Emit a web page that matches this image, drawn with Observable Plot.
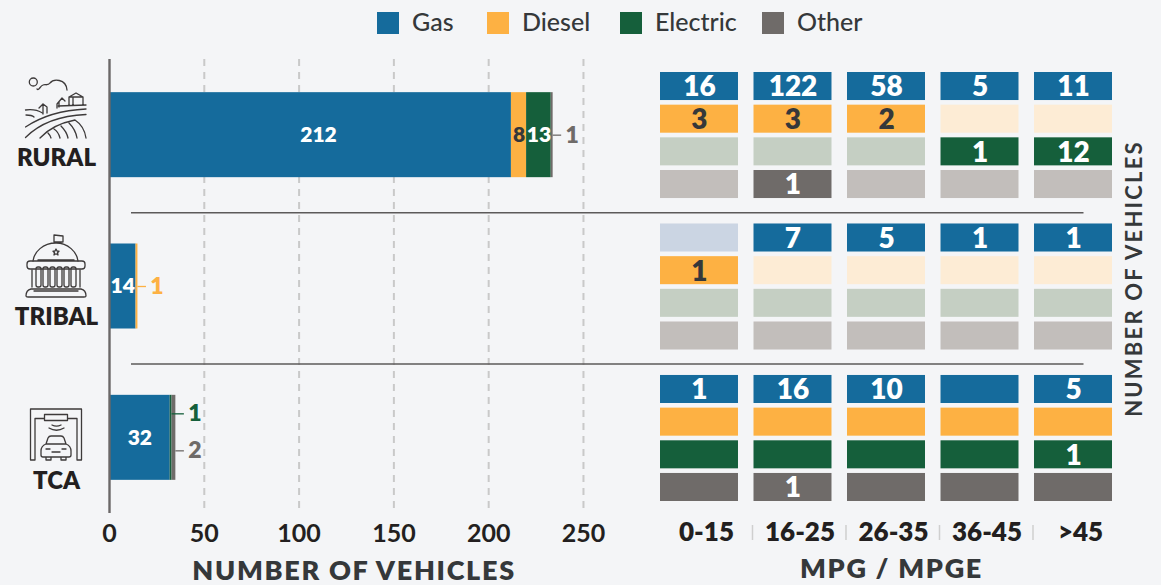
<!DOCTYPE html>
<html><head><meta charset="utf-8">
<script src="https://cdn.jsdelivr.net/npm/d3@7"></script>
<script src="https://cdn.jsdelivr.net/npm/@observablehq/plot@0.6"></script>
<style>
html,body{margin:0;padding:0;background:#f4f5f7;overflow:hidden}
#wrap{position:relative;width:1161px;height:585px;background:#f4f5f7;font-family:Lato,sans-serif}
#wrap>svg{position:absolute;left:0;top:0;max-width:none}
.sw{position:absolute;top:12px;width:22px;height:22px}
.lg{position:absolute;top:5px;font-size:25px;line-height:32px;font-weight:500;color:#35383a}
.spaced text{letter-spacing:1.7px}
.spacedv text{letter-spacing:2.2px}
</style></head><body><div id="wrap"></div>
<script>
const groups = ["RURAL","TRIBAL","TCA"];
const fuels = ["Gas","Diesel","Electric","Other"];
const bins = ["0-15","16-25","26-35","36-45",">45"];
const fullColors = ["#156b9c","#fdb143","#155f3b","#6f6b69"];
const faintColors = ["#cbd5e3","#fdecd5","#c5cfc3","#c2bebb"];
const totals = {
  RURAL: [212,8,13,1],
  TRIBAL:[14,1,0,0],
  TCA:   [32,0,1,2]
};
const ruralCells = [[16,122,58,5,11],[3,3,2,0,0],[0,0,0,1,12],[0,1,0,0,0]];
const tribalCells = [[0,7,5,1,1],[1,0,0,0,0],[0,0,0,0,0],[0,0,0,0,0]];
const tcaCells = [[1,16,10,0,5],[0,0,0,0,0],[0,0,0,0,1],[0,1,0,0,0]];
const xTicks = [0,50,100,150,200,250];
const legendX = [377,487,620,762];

const cellsBy = {RURAL:ruralCells,TRIBAL:tribalCells,TCA:tcaCells};
const segs = groups.flatMap(g=>{let c=0;return fuels.map((f,i)=>{const v=totals[g][i];const s={group:g,fuel:f,value:v,start:c,end:c+v,total:d3.sum(totals[g]),i};c+=v;return s;});}).filter(d=>d.value>0);
const cells = groups.flatMap(g=>fuels.flatMap((f,i)=>bins.map((b,j)=>{
  const v=cellsBy[g][i][j];
  return {group:g,fuel:f,bin:b,value:v,i,fill:(g==="TCA"||v>0)?fullColors[i]:faintColors[i]};
})));
const inside = d=>d.value>=8;
const callouts = [["RURAL","Other",0],["TRIBAL","Diesel",0],["TCA","Electric",-24],["TCA","Other",13]];
const dark="#35383a", font="Lato, sans-serif";
const calloutMarks = callouts.flatMap(([g,f,dy])=>{
  const s=segs.filter(d=>d.group===g&&d.fuel===f), col=fullColors[fuels.indexOf(f)];
  return [
    Plot.ruleY(s,{y:"group",x1:"end",x2:d=>d.total+4.5,dy,stroke:col,strokeWidth:1.3}),
    Plot.text(s,{y:"group",x:"total",dx:19,dy,text:"value",fill:col,fontSize:23,fontWeight:800,fontFamily:font})
  ];
});
const labelDy={RURAL:23.5,TRIBAL:31,TCA:43};
const groupLabels = groups.map(g=>Plot.text([g],{y:d=>d,frameAnchor:"left",textAnchor:"middle",dx:56,dy:labelDy[g],text:d=>d,fontSize:24,fontWeight:800,fill:"#231f20",fontFamily:font}));
const barLabel = d=>d.fuel==="Diesel"?dark:"#fff";
const barMid = d=>(d.start+d.end)/2;

const main = Plot.plot({
  width:1161,height:585,marginLeft:0,marginRight:0,marginTop:59,marginBottom:72,
  style:{background:"transparent",fontFamily:font,overflow:"visible"},
  x:{domain:[0,514],range:[109,1083.5]},
  y:{type:"band",domain:groups,paddingInner:0.4383,paddingOuter:0.2191,axis:null,round:false},
  color:{domain:fuels,range:fullColors},
  marks:[
    Plot.ruleX(xTicks.slice(1),{stroke:"#c9c9c9",strokeWidth:2,strokeDasharray:"7,6"}),
    Plot.barX(segs,{x:"value",y:"group",fill:"fuel",order:fuels,inset:0}),
    Plot.ruleX([0],{stroke:"#6b6868",strokeWidth:2.4}),
    Plot.ruleY(["RURAL","TRIBAL"],{y:d=>d,x1:11.6,x2:514,dy:77.5,stroke:"#5c5a5a",strokeWidth:1.5}),
    Plot.text(segs.filter(d=>inside(d)&&d.value<200),{x:barMid,y:"group",text:"value",fill:barLabel,fontSize:21,fontWeight:800,fontFamily:font}),
    Plot.text(segs.filter(d=>d.value>=200),{x:barMid,dx:8,y:"group",text:"value",fill:barLabel,fontSize:21,fontWeight:800,fontFamily:font}),
    ...calloutMarks,
    ...groupLabels,
    Plot.axisX({ticks:xTicks,tickSize:0,tickPadding:11,label:null,fontSize:25,fontWeight:700,fill:"#231f20",fontFamily:font}),
    Plot.text(["NUMBER OF VEHICLES"],{x:()=>129,frameAnchor:"bottom",dy:66,text:d=>d,fontSize:27,fontWeight:800,fill:dark,fontFamily:font,className:"spaced"}),
    Plot.text(["NUMBER OF VEHICLES"],{frameAnchor:"left",textAnchor:"middle",dx:1134,dy:-8,rotate:-90,text:d=>d,fontSize:22,fontWeight:700,fill:dark,fontFamily:font,className:"spacedv"})
  ]
});

const grid = Plot.plot({
  width:1161,height:585,marginLeft:0,marginRight:0,marginTop:72,marginBottom:84,
  style:{background:"transparent",fontFamily:font},
  x:{type:"band",domain:bins,range:[660,1112],paddingInner:0.166,paddingOuter:0,axis:null,round:false},
  y:{type:"band",domain:fuels,paddingInner:0.142,paddingOuter:0,axis:null,round:false},
  fy:{domain:groups,paddingInner:0.168,paddingOuter:0,axis:null,label:null,round:false},
  marks:[
    Plot.cell(cells,{x:"bin",y:"fuel",fy:"group",fill:"fill",inset:0}),
    Plot.text(cells.filter(d=>d.value>0),{x:"bin",y:"fuel",fy:"group",dy:1,text:"value",fill:d=>d.fuel==="Diesel"?dark:"#fff",fontSize:28,fontWeight:800,fontFamily:font})
  ]
});

const binAxis = Plot.plot({
  width:1161,height:585,marginLeft:0,marginRight:0,marginTop:525,marginBottom:45,
  style:{background:"transparent",fontFamily:font},
  x:{type:"band",domain:bins,range:[660+7,1112+7],paddingInner:0.166,paddingOuter:0,axis:null,round:false},
  y:{axis:null},
  marks:[
    Plot.ruleX(bins.slice(0,4),{x:d=>d,dx:46,stroke:"#cfcfcf",strokeWidth:1.5}),
    Plot.text(bins,{x:d=>d,frameAnchor:"middle",text:d=>d,fontSize:26,fontWeight:800,fill:"#231f20",fontFamily:font}),
    Plot.text(["MPG / MPGE"],{x:()=>"26-35",dx:-2,frameAnchor:"bottom",dy:37,text:d=>d,fontSize:27,fontWeight:800,fill:dark,fontFamily:font,className:"spaced"})
  ]
});

const wrap=document.getElementById("wrap");
wrap.append(main,grid,binAxis);

// legend
fuels.forEach((f,i)=>{
  const s=document.createElement("div");s.className="sw";s.style.left=legendX[i]+"px";s.style.background=fullColors[i];wrap.append(s);
  const t=document.createElement("div");t.className="lg";t.style.left=(legendX[i]+35)+"px";t.textContent=f;wrap.append(t);
});

// decorative pictograms
const icons=document.createElementNS("http://www.w3.org/2000/svg","svg");
icons.setAttribute("width",1161);icons.setAttribute("height",585);
icons.innerHTML=`<g fill="none" stroke="#3d3a3a" stroke-width="1.3" stroke-linecap="round" stroke-linejoin="round">
<circle cx="33.3" cy="82" r="4"/>
<path d="M37 89c2 2 3-3 6-4 2-1 5 1 7-2 3-4 16-5 17 7"/>
<path d="M25.500 110c7-1 12 0 17 3M26 115c4 0 6 0 8 2M25.500 127c18-12 38-17 60.500-18M25.500 137.500c14-14 34-22 60.500-23"/>
<path d="M40 138c9-10 20-15 35-18 6 4 10 11 11 18M51 138c-1-3-2-4-3-5M60 138c-1-4-3-7-6-9M68 138c-1-5-4-9-7-12M77 138c-1-6-4-11-8-15"/>
<path d="M39 108l4-4 4 3v6M43 104v10"/>
<path d="M57 108v-4l5-6 3 3M59 107v-5"/>
<path d="M69 105v-8l7-4 7 4v8M69 97h14M73 97v8M58 106l28-1"/>
<path d="M54 242v-7l9 1v6zM56 243c-13 0-22 9-23 18M56 243c12 0 21 9 22 18"/>
<path d="M56 249l1 2 2 .2-1.500 1.500.500 2.300-2-1.200-2 1.200.500-2.300-1.500-1.500 2-.2z"/>
<path d="M38 260h36M30 261h52q3 0 3 3v2q0 3-3 3H30q-3 0-3-3v-2q0-3 3-3z"/>
<path d="M32 270v17M80 270v17M26 296q0-6 5-7h50q5 1 5 7q0 1-2 1H28q-2 0-2-1zM34 291h44"/>
<rect x="36" y="267" width="5" height="20" rx="2"/><rect x="43" y="267" width="5" height="20" rx="2"/><rect x="50" y="267" width="5" height="20" rx="2"/><rect x="57" y="267" width="5" height="20" rx="2"/><rect x="64" y="267" width="5" height="20" rx="2"/><rect x="71" y="267" width="5" height="20" rx="2"/>
<path d="M35 460h-4.500V409h51v51H77M35 460v-41.500h9M68 418.500h9V460"/>
<rect x="44.500" y="414.500" width="23" height="6"/>
<path d="M52 425c3 1.500 6 1.500 9 0M49 428c5 3 10 3 15 0"/>
<path d="M46 444l2-6q1-2 3-2h10q2 0 3 2l2 6M46 444q-5 2-5 7v4q0 2 2 2h26q2 0 2-2v-4q0-5-5-7zM46 444h20M46 457v3h5v-3M61 457v3h5v-3M46 449h4M62 449h4M52 452h8"/>
</g>`;
wrap.append(icons);
</script></body></html>
